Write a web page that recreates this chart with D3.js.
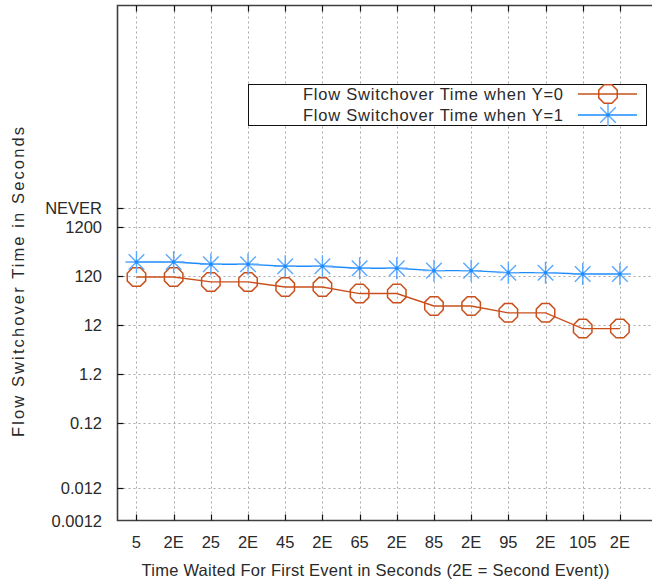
<!DOCTYPE html>
<html>
<head>
<meta charset="utf-8">
<script src="https://cdn.jsdelivr.net/npm/d3@7"></script>
<style>
  html, body { margin: 0; padding: 0; background: #fff; }
  svg { display: block; }
  text { font-family: "Liberation Sans", Arial, sans-serif; fill: #2a2a2a; }
</style>
</head>
<body>
<svg id="chart" width="652" height="586"></svg>
<script>
// Wait times (first event, then second event "2E")
const categories = ["5", "2E", "25", "2E", "45", "2E", "65", "2E", "85", "2E", "95", "2E", "105", "2E"];
// Switchover time in seconds
const switchoverY0 = [113, 113, 90, 90, 71, 71, 52, 52, 29, 29, 21, 21, 10, 10];
const switchoverY1 = [229, 229, 206, 206, 188, 188, 171, 171, 153, 153, 139, 139, 131, 131];
// Y axis ticks (log scale) and their printed labels
const yTickValues = [0.0012, 0.0055, 0.12, 1.2, 12, 120, 1200, 2870];
const yTickLabels = ["0.0012", "0.012", "0.12", "1.2", "12", "120", "1200", "NEVER"];
const seriesNames = ["Flow Switchover Time when Y=0", "Flow Switchover Time when Y=1"];

const svg = d3.select("#chart");
const plotLeft = 117.5, plotRight = 653, plotTop = 5.5, plotBottom = 520.5;

const x = d3.scaleLinear().domain([-0.51, 13.89]).range([plotLeft, plotRight]);
const y = d3.scaleLog().domain([0.0012, 4e7]).range([plotBottom, plotTop]);

const orange = "#c9501c";
const blue = "#1a8cff";
const idx = categories.map((_, i) => i);

// grid
const grid = svg.append("g").attr("stroke", "#a8a8a8").attr("stroke-width", 1)
  .attr("stroke-dasharray", "2,3");
grid.selectAll(".vg").data(idx).join("line")
  .attr("x1", d => Math.round(x(d)) + 0.5).attr("x2", d => Math.round(x(d)) + 0.5)
  .attr("y1", plotTop + 6).attr("y2", plotBottom - 1);
grid.selectAll(".hg").data(yTickValues.slice(1)).join("line")
  .attr("y1", d => Math.round(y(d)) + 0.5).attr("y2", d => Math.round(y(d)) + 0.5)
  .attr("x1", plotLeft + 1).attr("x2", plotRight);

// frame
svg.append("path")
  .attr("d", `M${plotRight},${plotTop}H${plotLeft}V${plotBottom}H${plotRight}`)
  .attr("fill", "none").attr("stroke", "#404040").attr("stroke-width", 1.6);

// ticks
const ticks = svg.append("g").attr("stroke", "#111").attr("stroke-width", 1.2);
ticks.selectAll(".yt").data(yTickValues.slice(1)).join("line")
  .attr("x1", plotLeft).attr("x2", plotLeft + 6)
  .attr("y1", d => Math.round(y(d)) + 0.5).attr("y2", d => Math.round(y(d)) + 0.5);
ticks.selectAll(".xb").data(idx).join("line")
  .attr("x1", d => Math.round(x(d)) + 0.5).attr("x2", d => Math.round(x(d)) + 0.5)
  .attr("y1", plotBottom).attr("y2", plotBottom - 6);
ticks.selectAll(".xt").data(idx).join("line")
  .attr("x1", d => Math.round(x(d)) + 0.5).attr("x2", d => Math.round(x(d)) + 0.5)
  .attr("y1", plotTop).attr("y2", plotTop + 6);

// tick labels
svg.append("g").selectAll("text").data(yTickValues).join("text")
  .attr("x", 102).attr("y", d => y(d) + 6)
  .attr("text-anchor", "end").attr("font-size", 16.5)
  .text((d, i) => yTickLabels[i]);
svg.append("g").selectAll("text").data(categories).join("text")
  .attr("x", (d, i) => x(i)).attr("y", 548)
  .attr("text-anchor", "middle").attr("font-size", 16.5)
  .text(d => d);

// axis titles
svg.append("text").attr("x", 141.5).attr("y", 576)
  .attr("font-size", 16.5)
  .attr("textLength", 468).attr("lengthAdjust", "spacing")
  .text("Time Waited For First Event in Seconds (2E = Second Event))");
svg.append("text").attr("transform", "translate(24,437) rotate(-90)")
  .attr("font-size", 16.5)
  .attr("textLength", 310).attr("lengthAdjust", "spacing")
  .text("Flow Switchover Time in Seconds");

// markers
function octagon(r) {
  const pts = d3.range(8).map(k => {
    const a = Math.PI / 8 + k * Math.PI / 4;
    return [r * Math.cos(a), r * Math.sin(a)];
  });
  return "M" + pts.map(p => p.join(",")).join("L") + "Z";
}
function star(r) {
  let d = "";
  for (let k = 0; k < 4; k++) {
    const a = k * Math.PI / 4;
    const dx = r * Math.cos(a), dy = r * Math.sin(a);
    d += `M${-dx},${-dy}L${dx},${dy}`;
  }
  return d;
}

const line = d3.line().x((d, i) => x(i)).y(d => y(d));

// Y=0 series
svg.append("path").datum(switchoverY0).attr("d", line)
  .attr("fill", "none").attr("stroke", orange).attr("stroke-width", 1.4);
svg.append("g").selectAll("path").data(switchoverY0).join("path")
  .attr("transform", (d, i) => `translate(${x(i)},${y(d)})`)
  .attr("d", octagon(10)).attr("fill", "none")
  .attr("stroke", orange).attr("stroke-width", 1.5);

// Y=1 series
svg.append("path").datum(switchoverY1).attr("d", line)
  .attr("fill", "none").attr("stroke", blue).attr("stroke-width", 1.4);
const stars = svg.append("g").selectAll("g").data(switchoverY1).join("g")
  .attr("transform", (d, i) => `translate(${x(i)},${y(d)})`);
stars.append("path").attr("d", star(11)).attr("stroke", "#5aa8ff").attr("stroke-width", 1.4);
stars.append("circle").attr("r", 1.8).attr("fill", blue);

// legend
const lg = svg.append("g");
lg.append("rect").attr("x", 248.5).attr("y", 84.5).attr("width", 398).attr("height", 41)
  .attr("fill", "#fff").attr("stroke", "#111").attr("stroke-width", 1);
const rows = [
  { name: seriesNames[0], cy: 94, color: orange, sym: "oct" },
  { name: seriesNames[1], cy: 115, color: blue, sym: "star" }
];
rows.forEach(r => {
  lg.append("text").attr("x", 303).attr("y", r.cy + 6)
    .attr("font-size", 16.5)
    .attr("textLength", 260).attr("lengthAdjust", "spacing")
    .text(r.name);
  lg.append("line").attr("x1", 578).attr("x2", 637).attr("y1", r.cy).attr("y2", r.cy)
    .attr("stroke", r.color).attr("stroke-width", 1.4);
  if (r.sym === "oct") {
    lg.append("path").attr("transform", `translate(608,${r.cy})`).attr("d", octagon(10))
      .attr("fill", "none").attr("stroke", orange).attr("stroke-width", 1.5);
  } else {
    lg.append("path").attr("transform", `translate(608,${r.cy})`).attr("d", star(11))
      .attr("stroke", "#5aa8ff").attr("stroke-width", 1.4);
    lg.append("circle").attr("cx", 608).attr("cy", r.cy).attr("r", 1.8).attr("fill", blue);
  }
});
</script>
</body>
</html>
